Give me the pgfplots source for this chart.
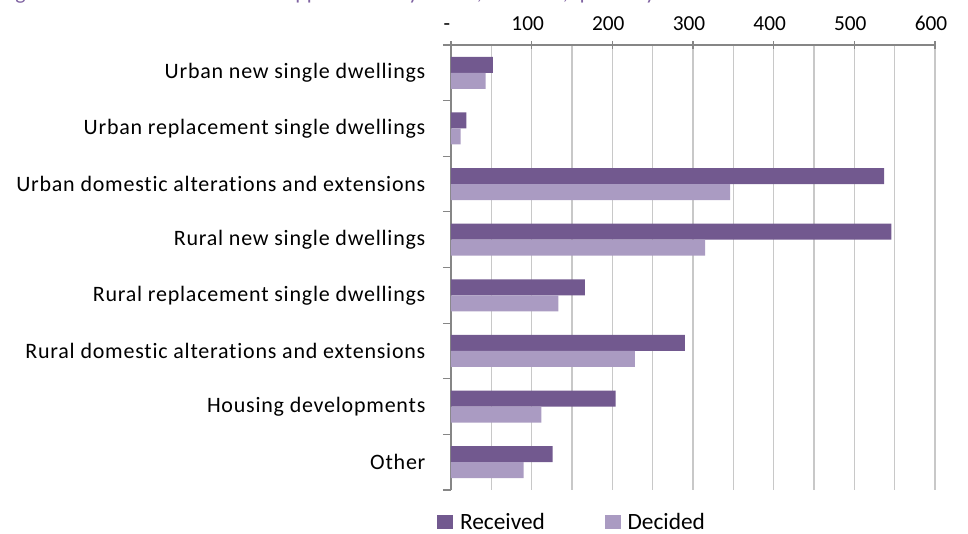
\documentclass[border=0pt]{standalone}
\usepackage{fontspec}
\setmainfont{Carlito}[Ligatures=NoCommon]
\usepackage{pgfplots}
\pgfplotsset{compat=1.18}

\definecolor{received}{RGB}{114,89,143}
\definecolor{decided}{RGB}{170,155,194}
\definecolor{titlepurple}{RGB}{128,100,162}
\definecolor{axisgray}{RGB}{134,134,134}
\definecolor{gridgray}{RGB}{200,200,200}

\newcommand\labelfont{\fontsize{16.5}{18}\selectfont\addfontfeature{LetterSpace=3.5}}

\begin{document}
\begin{tikzpicture}
% page = 968 x 534 px, 1 px = 0.75pt
\useasboundingbox (0,0) rectangle (726pt,400.5pt);
\node[anchor=base west, inner sep=0pt, text=titlepurple, font=\fontsize{16.5}{18}\selectfont]
  at (0pt,400.8pt) {Figure 6: Number of residential applications by status, 2013/14, quarterly};

\begin{axis}[
    at={(338.25pt,33pt)}, anchor=south west,
    scale only axis,
    width=363pt, height=333.75pt,
    xbar, bar width=12pt,
    xmin=0, xmax=600,
    ymin=-0.5, ymax=7.5,
    axis x line*=top, axis y line*=left,
    axis line style={draw=axisgray, line width=0.8pt, -},
    xtick={0,100,...,600},
    xticklabels={-,100,200,300,400,500,600},
    minor xtick={50,150,...,550},
    xmajorgrids, xminorgrids,
    major grid style={draw=gridgray, line width=1pt},
    minor grid style={draw=gridgray, line width=1pt},
    xtick align=center,
    major tick length=6pt, minor tick length=6pt,
    major x tick style={draw=axisgray, line width=0.8pt},
    minor x tick style={draw=none},
    ytick={0,...,7},
    yticklabels={Other, Housing developments, Rural domestic alterations and extensions,
      Rural replacement single dwellings, Rural new single dwellings,
      Urban domestic alterations and extensions, Urban replacement single dwellings,
      Urban new single dwellings},
    minor ytick={-0.5,0.5,...,7.5},
    ytick align=outside,
    major y tick style={draw=none},
    minor y tick style={draw=axisgray, line width=0.8pt},
    ticklabel style={text=black},
    xticklabel style={font=\fontsize{16}{18}\selectfont, anchor=base, inner sep=0pt, yshift=8pt, xshift=-3pt},
    yticklabel style={font=\labelfont, anchor=east, inner sep=0pt, xshift=-13pt},
    legend columns=2,
    legend style={at={(0.251,-0.073)}, anchor=center, draw=none, fill=none,
      font=\fontsize{17.5}{19}\selectfont, inner sep=0pt,
      /tikz/every odd column/.append style={column sep=3pt},
      /tikz/every even column/.append style={column sep=43pt}},
    legend image code/.code={\path[#1] (0pt,-5.25pt) rectangle (12pt,5.25pt);},
]
\addplot[fill=received, draw=none, bar shift=6pt] coordinates {
  (52,7) (19,6) (537,5) (546,4) (166,3) (290,2) (204,1) (126,0)
};
\addplot[fill=decided, draw=none, bar shift=-6pt] coordinates {
  (43,7) (12,6) (346,5) (315,4) (133,3) (228,2) (112,1) (90,0)
};
\legend{Received, Decided}
\end{axis}
\end{tikzpicture}
\end{document}
